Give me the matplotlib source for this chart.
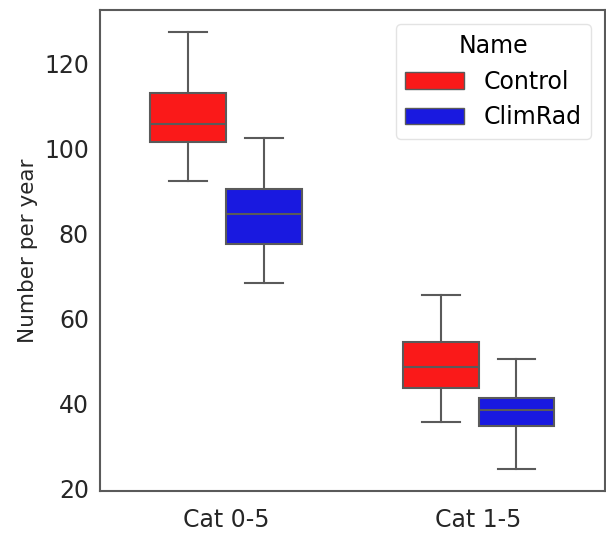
import matplotlib
matplotlib.use('Agg')
import matplotlib.pyplot as plt
from matplotlib.patches import Patch

# Data
categories = ['Cat 0-5', 'Cat 1-5']
names = ['Control', 'ClimRad']
colors = ['#fa1919', '#1919e0']

# whislo, q1, median, q3, whishi per category
control_stats = [
    [92.3, 101.6, 105.8, 113.1, 127.3],
    [35.5, 43.7, 48.6, 54.5, 65.5],
]
climrad_stats = [
    [68.4, 77.5, 84.6, 90.4, 102.5],
    [24.5, 34.7, 38.4, 41.3, 50.4],
]

fig = plt.figure(figsize=(6.06, 5.38), dpi=100)
ax = fig.add_axes([0.165, 0.087, 0.833, 0.894])

grey = '#5a5a5a'
width = 0.3
for k, (series, col) in enumerate(zip([control_stats, climrad_stats], colors)):
    offset = (k - 0.5) * width
    stats = []
    for s in series:
        stats.append(dict(whislo=s[0], q1=s[1], med=s[2], q3=s[3], whishi=s[4], fliers=[]))
    positions = [i + offset for i in range(len(categories))]
    ax.bxp(stats, positions=positions, widths=width, patch_artist=True, showfliers=False,
           boxprops=dict(facecolor=col, edgecolor=grey, linewidth=1.5),
           medianprops=dict(color=grey, linewidth=1.5),
           whiskerprops=dict(color=grey, linewidth=1.5),
           capprops=dict(color=grey, linewidth=1.5),
           manage_ticks=False)

ax.set_xlim(-0.5, 1.5)
ax.set_ylim(19.3, 132.5)
ax.set_xticks(range(len(categories)))
ax.set_xticklabels(categories)
ax.set_yticks([20, 40, 60, 80, 100, 120])
ax.tick_params(labelsize=17, length=0, colors='#262626', pad=8)
ax.tick_params(axis='x', pad=12)
ax.set_ylabel('Number per year', fontsize=15.5, color='#262626')
for sp in ax.spines.values():
    sp.set_color(grey)
    sp.set_linewidth(1.5)

handles = [Patch(facecolor=c, edgecolor=grey, label=n) for n, c in zip(names, colors)]
leg = ax.legend(handles=handles, title='Name', loc='upper right', fontsize=17,
                title_fontsize=17, frameon=True, fancybox=True,
                handlelength=2.5, handleheight=0.7, borderaxespad=0.6)
leg.get_frame().set_edgecolor('#dddddd')

fig.savefig('out.png', dpi=100)
